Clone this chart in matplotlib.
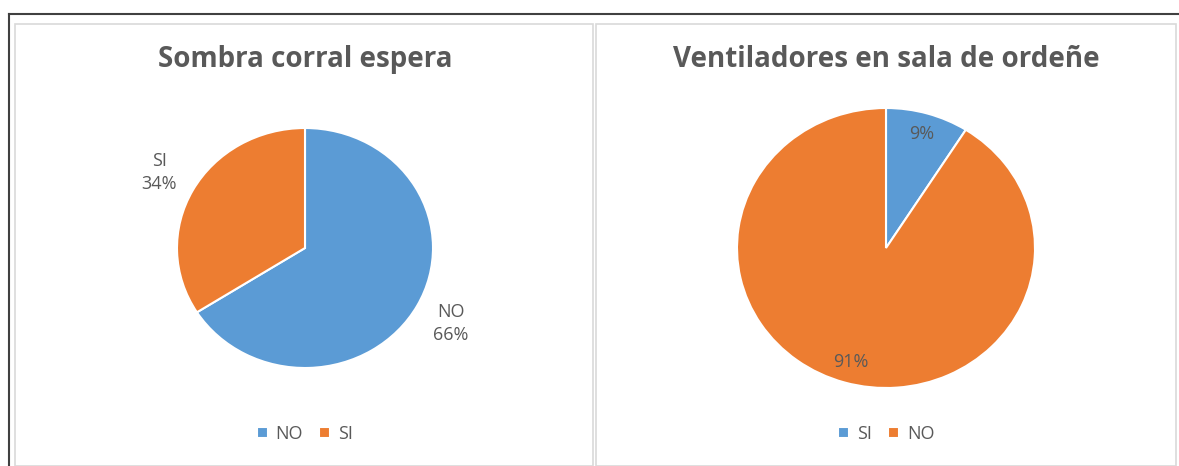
import matplotlib.pyplot as plt
from matplotlib.patches import Rectangle
from matplotlib.lines import Line2D

plt.rcParams['font.family'] = ['Open Sans', 'DejaVu Sans']

BLUE = "#5B9BD5"
ORANGE = "#ED7D31"
GREY = "#595959"

# left chart
title1 = "Sombra corral espera"
labels1 = ["NO", "SI"]
values1 = [66, 34]

# right chart
title2 = "Ventiladores en sala de ordeñe"
labels2 = ["SI", "NO"]
values2 = [9, 91]

W, H = 1179, 466
fig = plt.figure(figsize=(W / 100, H / 100), dpi=100)

# frame: dark outer lines + light panel borders
fig.add_artist(Line2D([9 / W, 1], [1 - 14 / H] * 2, color="#404040", lw=1.5))
fig.add_artist(Line2D([9 / W] * 2, [0, 1 - 14 / H], color="#404040", lw=1.5))
for x0, x1 in [(15, 593), (596, 1176)]:
    fig.add_artist(Rectangle((x0 / W, 0), (x1 - x0) / W, 1 - 24 / H,
                             fill=False, ec="#d9d9d9", lw=1.2))


# the source screenshot is slightly stretched sideways, so pies are ellipses
def add_pie(cx, cy, rx, ry):
    ax = fig.add_axes([(cx - rx) / W, 1 - (cy + ry) / H, 2 * rx / W, 2 * ry / H])
    return ax


leg_kw = dict(loc="center", ncol=2, frameon=False, handlelength=0.6, handleheight=0.6,
              handletextpad=0.45, columnspacing=0.9, fontsize=13, labelcolor=GREY)

# left pie
ax1 = add_pie(305, 248, 128, 120)
wedges1, txt1 = ax1.pie(values1, colors=[BLUE, ORANGE], startangle=90, counterclock=False,
                        labels=[f"{l}\n{v}%" for l, v in zip(labels1, values1)],
                        labeldistance=1.3, wedgeprops=dict(edgecolor="white", linewidth=1.5),
                        textprops=dict(color=GREY, fontsize=13, ha="center", va="center",
                                       linespacing=1.35))
ax1.set_xlim(-1, 1)
ax1.set_ylim(-1, 1)
ax1.set_aspect("auto")
fig.text(305 / W, 1 - 60 / H, title1, ha="center", va="center", fontsize=20,
         fontweight="bold", color=GREY)
fig.legend(wedges1, labels1, bbox_to_anchor=(305 / W, 1 - 434 / H), **leg_kw)

# right pie
ax2 = add_pie(886, 248, 149, 140)
wedges2, txt2, pct2 = ax2.pie(values2, colors=[BLUE, ORANGE], startangle=90, counterclock=False,
                              autopct="%d%%", pctdistance=0.85,
                              wedgeprops=dict(edgecolor="white", linewidth=1.5),
                              textprops=dict(color=GREY, fontsize=13))
ax2.set_xlim(-1, 1)
ax2.set_ylim(-1, 1)
ax2.set_aspect("auto")
fig.text(886 / W, 1 - 60 / H, title2, ha="center", va="center", fontsize=20,
         fontweight="bold", color=GREY)
fig.legend(wedges2, labels2, bbox_to_anchor=(886 / W, 1 - 434 / H), **leg_kw)

fig.savefig("out.png", dpi=100)
